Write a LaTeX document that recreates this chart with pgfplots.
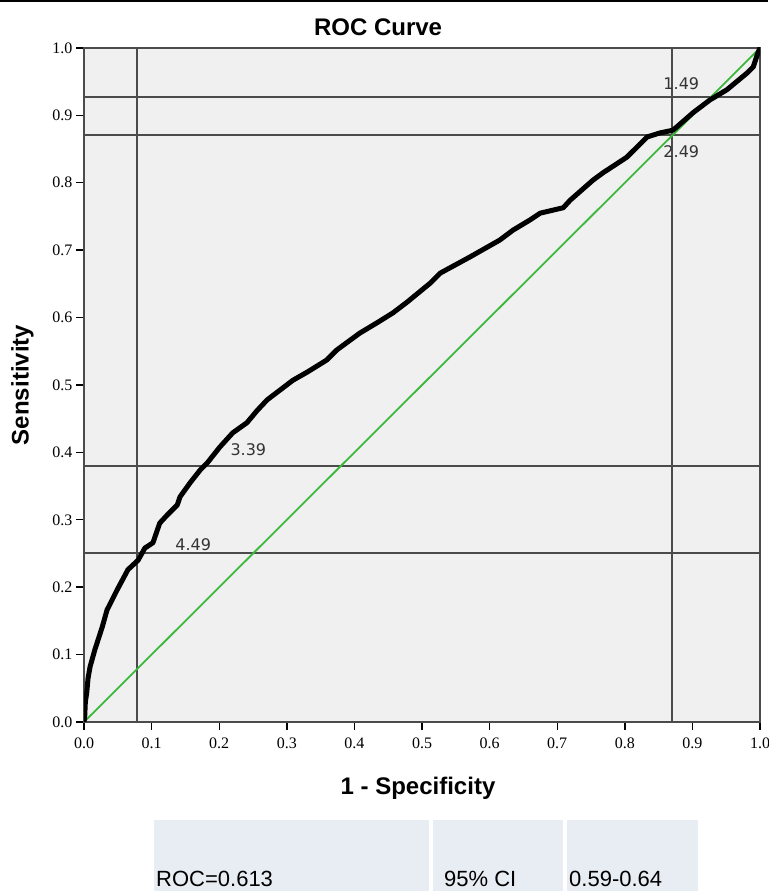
\documentclass[border=0pt]{standalone}
\usepackage{fontspec}
\setmainfont{Liberation Sans}
\newfontfamily\tickfont{Liberation Serif}
\newfontfamily\cutfont{DejaVu Sans}
\usepackage{pgfplots}
\pgfplotsset{compat=1.18}
\definecolor{plotbg}{RGB}{240,240,240}
\definecolor{refgrey}{RGB}{75,75,75}
\definecolor{diaggreen}{RGB}{60,185,60}
\definecolor{cellblue}{RGB}{232,236,243}

\pgfplotstableread{
fpr   tpr
0     0
0.001 0.007
0.002 0.030
0.004 0.043
0.006 0.065
0.009 0.082
0.016 0.107
0.027 0.141
0.034 0.166
0.049 0.196
0.065 0.226
0.080 0.240
0.090 0.258
0.102 0.266
0.112 0.295
0.123 0.307
0.138 0.322
0.142 0.334
0.157 0.355
0.172 0.374
0.182 0.384
0.201 0.408
0.220 0.429
0.241 0.444
0.256 0.462
0.271 0.478
0.309 0.507
0.330 0.519
0.359 0.537
0.374 0.552
0.408 0.577
0.433 0.592
0.457 0.607
0.478 0.623
0.512 0.651
0.527 0.666
0.571 0.690
0.615 0.715
0.635 0.730
0.660 0.745
0.675 0.755
0.709 0.763
0.719 0.774
0.753 0.804
0.768 0.815
0.803 0.838
0.833 0.868
0.852 0.874
0.871 0.878
0.877 0.883
0.901 0.904
0.926 0.923
0.951 0.938
0.981 0.963
0.990 0.972
0.997 0.993
1     1
}\roctable

\begin{document}
\begin{tikzpicture}[x=1pt,y=1pt]
\useasboundingbox (0,0) rectangle (768,891);
\fill[black] (0,888.5) rectangle (768,891);
\begin{axis}[
    at={(84pt,169pt)}, anchor=south west,
    scale only axis, width=676pt, height=674pt,
    xmin=0, xmax=1, ymin=0, ymax=1,
    axis background/.style={fill=plotbg},
    axis line style={refgrey, line width=1.6pt},
    xtick={0,0.1,...,1}, ytick={0,0.1,...,1},
    tick align=outside, tick pos=left,
    major tick length=8pt,
    tick style={black, line width=1.4pt},
    xticklabel style={/pgf/number format/fixed, /pgf/number format/fixed zerofill, /pgf/number format/precision=1, font=\tickfont\fontsize{16}{16}\selectfont, yshift=-4pt},
    yticklabel style={/pgf/number format/fixed, /pgf/number format/fixed zerofill, /pgf/number format/precision=1, font=\tickfont\fontsize{16}{16}\selectfont},
    /pgf/number format/assume math mode=true,
    title={\bfseries ROC Curve},
    title style={font=\fontsize{24}{24}\selectfont, at={(0.435,1)}, yshift=3pt},
    xlabel={\bfseries 1 - Specificity},
    ylabel={\bfseries Sensitivity},
    label style={font=\fontsize{24}{24}\selectfont},
    xlabel style={yshift=-22pt, xshift=-4pt},
    ylabel style={yshift=12pt},
    clip=true,
]
% reference lines at cut-off points
\addplot[refgrey, line width=1.6pt] coordinates {(0.078,0) (0.078,1)};
\addplot[refgrey, line width=1.6pt] coordinates {(0.870,0) (0.870,1)};
\addplot[refgrey, line width=1.6pt] coordinates {(0,0.927) (1,0.927)};
\addplot[refgrey, line width=1.6pt] coordinates {(0,0.871) (1,0.871)};
\addplot[refgrey, line width=1.6pt] coordinates {(0,0.380) (1,0.380)};
\addplot[refgrey, line width=1.6pt] coordinates {(0,0.251) (1,0.251)};
% diagonal
\addplot[diaggreen, line width=1.8pt] coordinates {(0,0) (1,1)};
% ROC curve
\addplot[black, line width=5pt, line join=round, line cap=round] table[x=fpr, y=tpr] {\roctable};
% cut-off labels
\node[anchor=base west, font=\cutfont\fontsize{16}{16}\selectfont, text=black!80] at (axis cs:0.852,0.938) {1.49};
\node[anchor=base west, font=\cutfont\fontsize{16}{16}\selectfont, text=black!80] at (axis cs:0.852,0.837) {2.49};
\node[anchor=base west, font=\cutfont\fontsize{16}{16}\selectfont, text=black!80] at (axis cs:0.2115,0.395) {3.39};
\node[anchor=base west, font=\cutfont\fontsize{16}{16}\selectfont, text=black!80] at (axis cs:0.130,0.254) {4.49};
\end{axis}
% summary table
\fill[cellblue] (154,0) rectangle (429,71);
\fill[cellblue] (433,0) rectangle (563,71);
\fill[cellblue] (567,0) rectangle (698,71);
\node[anchor=base west, inner sep=0pt, font=\fontsize{22}{22}\selectfont] at (156,5) {ROC=0.613};
\node[anchor=base west, inner sep=0pt, font=\fontsize{22}{22}\selectfont] at (444,5) {95\% CI};
\node[anchor=base west, inner sep=0pt, font=\fontsize{22}{22}\selectfont] at (569,5) {0.59-0.64};
\end{tikzpicture}
\end{document}
